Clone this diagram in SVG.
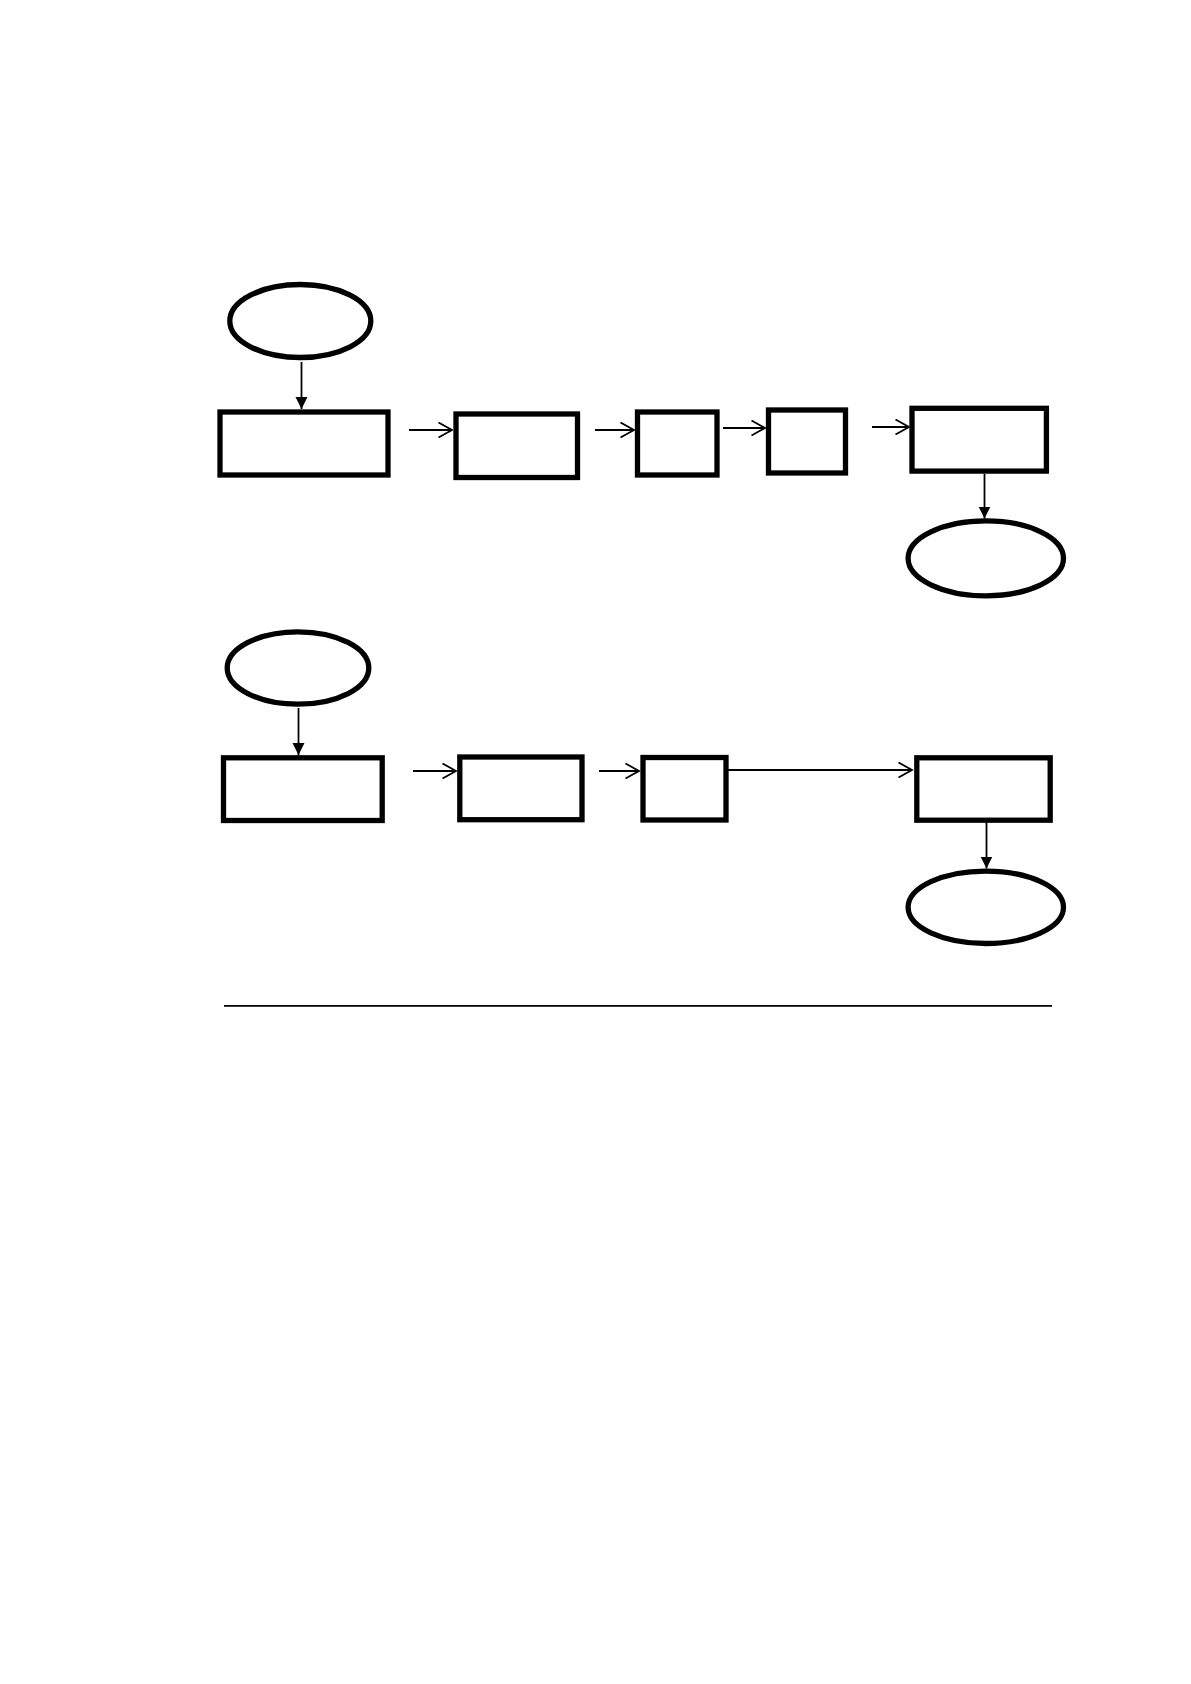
<svg xmlns="http://www.w3.org/2000/svg" width="1191" height="1684" viewBox="0 0 1191 1684">
<style>
.node{fill:#fff;stroke:#000;stroke-width:5.3}
.conn{stroke:#000;stroke-width:1.8;fill:none}
</style>
<defs>
<marker id="open" markerUnits="userSpaceOnUse" markerWidth="16" markerHeight="18" refX="14.5" refY="8" orient="auto" viewBox="0 0 16 18">
<path d="M1,0.5 L14.5,8 L1,15.5" fill="none" stroke="#000" stroke-width="1.8"/>
</marker>
<marker id="solid" markerUnits="userSpaceOnUse" markerWidth="13" markerHeight="13" refX="12" refY="6" orient="auto" viewBox="0 0 13 13">
<path d="M0,0 L12,6 L0,12 Z" fill="#000"/>
</marker>
</defs>
<rect width="1191" height="1684" fill="#fff"/>
<g id="connectors">
<line class="conn" x1="301.5" y1="362" x2="301.5" y2="409" marker-end="url(#solid)"/>
<line class="conn" x1="409" y1="430" x2="452" y2="430" marker-end="url(#open)"/>
<line class="conn" x1="595" y1="430" x2="634" y2="430" marker-end="url(#open)"/>
<line class="conn" x1="723" y1="428" x2="765" y2="428" marker-end="url(#open)"/>
<line class="conn" x1="872" y1="427" x2="909" y2="427" marker-end="url(#open)"/>
<line class="conn" x1="984.5" y1="474" x2="984.5" y2="518.5" marker-end="url(#solid)"/>
<line class="conn" x1="298.5" y1="708" x2="298.5" y2="755" marker-end="url(#solid)"/>
<line class="conn" x1="413" y1="771" x2="456" y2="771" marker-end="url(#open)"/>
<line class="conn" x1="599" y1="771" x2="639" y2="771" marker-end="url(#open)"/>
<line class="conn" x1="728" y1="770" x2="912" y2="770" marker-end="url(#open)"/>
<line class="conn" x1="986.5" y1="822" x2="986.5" y2="868.5" marker-end="url(#solid)"/>
<line x1="224" y1="1005.8" x2="1052" y2="1005.8" stroke="#000" stroke-width="1.8"/>
</g>
<g id="start1"><ellipse class="node" cx="300.3" cy="321" rx="70.5" ry="36.5"/></g>
<g id="box1"><rect class="node" x="220" y="412" width="168" height="63"/></g>
<g id="box2"><rect class="node" x="456" y="414" width="121.5" height="63.5"/></g>
<g id="box3"><rect class="node" x="637.5" y="412" width="79.5" height="63"/></g>
<g id="box4"><rect class="node" x="768.5" y="410" width="77" height="63"/></g>
<g id="box5"><rect class="node" x="912" y="408.3" width="134.4" height="62.8"/></g>
<g id="end1"><ellipse class="node" cx="985.8" cy="558.3" rx="77.7" ry="37.5"/></g>
<g id="start2"><ellipse class="node" cx="298" cy="668" rx="70.8" ry="36.2"/></g>
<g id="box6"><rect class="node" x="223.5" y="757.8" width="158.7" height="62.7"/></g>
<g id="box7"><rect class="node" x="459.8" y="757" width="122.2" height="62.7"/></g>
<g id="box8"><rect class="node" x="643" y="757.5" width="83" height="62.5"/></g>
<g id="box9"><rect class="node" x="916.8" y="757.8" width="133.4" height="62.4"/></g>
<g id="end2"><ellipse class="node" cx="985.8" cy="907.3" rx="77.7" ry="36.2"/></g>
</svg>
